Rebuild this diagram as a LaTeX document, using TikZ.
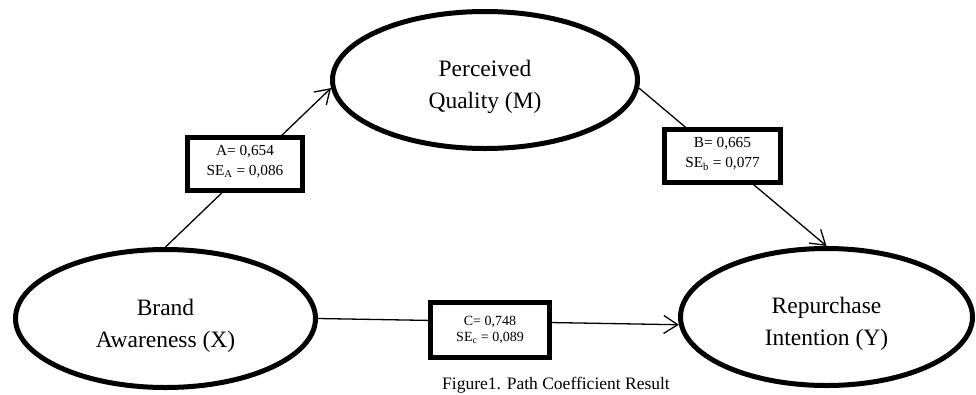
\documentclass[tikz,border=0pt]{standalone}
\usepackage{fontspec}
\setmainfont{Liberation Serif}
\usetikzlibrary{shapes.geometric,arrows.meta}
\newcommand{\lowerstrut}{\rule{0pt}{30pt}}
\newcommand{\boxstrut}{\rule[-7pt]{0pt}{7pt}}
\begin{document}
\begin{tikzpicture}[x=1pt,y=-1pt,
  latent/.style={ellipse,draw,line width=5pt,inner sep=0pt,align=center,
    font=\fontsize{23.5}{32}\selectfont},
  coefbox/.style={rectangle,draw,line width=5pt,fill=white,inner sep=0pt,align=center,
    font=\fontsize{15.3}{20}\selectfont},
  link/.style={line width=1.3pt},
  arr/.style={line width=1.3pt,-{Straight Barb[length=14pt,width=18pt,line width=1.3pt]}}]
\useasboundingbox (0,0) rectangle (976,394);
% latent variables
\node[latent,minimum width=300pt,minimum height=138pt] (X) at (165.5,318.5) {\lowerstrut Brand\\Awareness (X)};
\node[latent,minimum width=305pt,minimum height=137pt] (M) at (485,80) {\lowerstrut Perceived\\Quality (M)};
\node[latent,minimum width=292pt,minimum height=137pt] (Y) at (826.5,317) {\lowerstrut Repurchase\\Intention (Y)};
% paths
\draw[arr] (X.north) -- (M.183);
\draw[arr] (M.-3) -- (Y.north);
\draw[arr] (X.east) -- (Y.183);
% coefficient boxes
\node[coefbox,minimum width=115pt,minimum height=53pt] (A) at (245,164) {A= 0,654\\SE\textsubscript{A} = 0,086\boxstrut};
\node[coefbox,minimum width=116pt,minimum height=53pt] (B) at (722.5,156) {B= 0,665\\SE\textsubscript{b} = 0,077\boxstrut};
\node[coefbox,minimum width=119pt,minimum height=55pt,font=\fontsize{14}{16.5}\selectfont] (C) at (490,330) {C= 0,748\\SE\textsubscript{c} = 0,089};
% caption
\node[anchor=base,font=\fontsize{17.5}{20}\selectfont] (cap) at (556,389) {Figure1. Path Coefficient Result};
\end{tikzpicture}
\end{document}
